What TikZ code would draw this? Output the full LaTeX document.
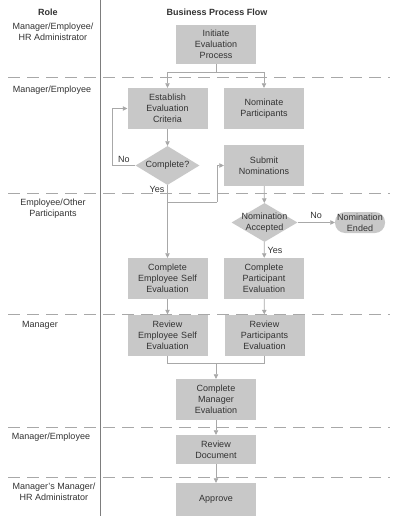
\documentclass[tikz,border=0pt]{standalone}
\usepackage{fontspec}
\setmainfont{Liberation Sans}
\usepackage{tikz}
\usetikzlibrary{shapes.geometric,arrows.meta,calc}

\definecolor{boxgray}{RGB}{200,200,200}
\definecolor{linegray}{RGB}{168,168,168}
\definecolor{txtgray}{RGB}{50,50,50}
\definecolor{divgray}{RGB}{125,125,125}

\begin{document}
\begin{tikzpicture}[x=1pt,y=-1pt,
	proc/.style={fill=boxgray,minimum width=80pt,minimum height=41pt,text width=78pt,
		align=center,inner sep=0pt,text=txtgray,font=\fontsize{9}{10.8}\selectfont},
	decide/.style={diamond,fill=boxgray,minimum width=64pt,minimum height=39pt,inner sep=0pt},
	dtext/.style={align=center,text=txtgray,font=\fontsize{9}{10.8}\selectfont},
	role/.style={align=center,text=txtgray,font=\fontsize{9}{10.8}\selectfont},
	head/.style={text=txtgray,font=\fontsize{9}{10.8}\selectfont\bfseries},
	tag/.style={text=txtgray,inner sep=1pt,font=\fontsize{9}{10.8}\selectfont},
	flow/.style={draw=linegray,line width=0.7pt,-{Triangle[length=4.5pt,width=4.5pt]}},
	link/.style={draw=linegray,line width=0.7pt},
	lane/.style={draw=linegray,line width=0.7pt,dash pattern=on 12pt off 7pt}]
\useasboundingbox (0,0) rectangle (401,532);

% lanes
\foreach \y in {77,193,314,427,477}
	\draw[lane] (8,\y) -- (390,\y);
\draw[divgray,line width=0.8pt] (100,0) -- (100,516);

% headings and roles
\node[head] (h-role) at (48,12) {Role};
\node[head] (h-flow) at (217,12) {Business Process Flow};
\node[role] (r-1) at (53,32) {Manager/Employee/\\HR Administrator};
\node[role] (r-2) at (52,90) {Manager/Employee};
\node[role] (r-3) at (53,209) {Employee/Other\\Participants};
\node[role] (r-4) at (40,325) {Manager};
\node[role] (r-5) at (51,437) {Manager/Employee};
\node[role] (r-6) at (54,492) {Manager's Manager/\\HR Administrator};

% steps
\node[proc,minimum height=39pt] (init) at (216,44.5) {Initiate\\Evaluation\\Process};
\node[proc] (est) at (167.5,108.5) {Establish\\Evaluation\\Criteria};
\node[proc] (nom) at (264,108.5) {Nominate\\Participants};
\node[decide,label={[dtext]center:Complete?}] (chk) at (167.5,165.5) {};
\node[proc] (sub) at (264,165.5) {Submit\\Nominations};
\node[decide,minimum width=66pt,label={[dtext]center:Nomination\\Accepted}] (acc) at (264.5,222.5) {};
\node[proc,rounded corners=10pt,minimum width=50pt,minimum height=21pt,text width=50pt] (ended) at (360,222.5) {Nomination\\Ended};
\node[proc] (c-emp) at (167.5,278.5) {Complete\\Employee Self\\Evaluation};
\node[proc] (c-part) at (264,278.5) {Complete\\Participant\\Evaluation};
\node[proc] (r-emp) at (167.5,335) {Review\\Employee Self\\Evaluation};
\node[proc] (r-part) at (264.5,335) {Review\\Participants\\Evaluation};
\node[proc] (c-man) at (216,399.5) {Complete\\Manager\\Evaluation};
\node[proc,minimum height=29pt] (r-doc) at (216,449.5) {Review\\Document};
\node[proc,minimum height=33pt] (appr) at (216,499.5) {Approve};

% junctions
\coordinate (j-init) at (216,72);
\coordinate (j-no) at (112,165.5);
\coordinate (j-yes) at (167.5,202);
\coordinate (j-sub) at (217,202);
\coordinate (j-rev) at (216,363);

% connectors
\draw[link] (init) -- (j-init);
\draw[flow] (j-init) -| (est);
\draw[flow] (j-init) -| (nom);
\draw[flow] (est) -- (chk);
\draw[link] (chk) -- (j-no);
\draw[flow] (j-no) |- (est);
\draw[flow] (chk) -- (c-emp);
\draw[link] (j-yes) -- (j-sub);
\draw[flow] (j-sub) |- (sub);
\draw[flow] (sub) -- (acc);
\draw[flow] (acc) -- (ended);
\draw[flow] (acc) -- (c-part);
\draw[flow] (c-emp) -- (r-emp);
\draw[flow] (c-part) -- (r-part);
\draw[link] (r-emp) |- (j-rev);
\draw[link] (r-part) |- (j-rev);
\draw[flow] (j-rev) -- (c-man);
\draw[flow] (c-man) -- (r-doc);
\draw[flow] (r-doc) -- (appr);

% branch labels
\node[tag] (t-no1) at (124,159) {No};
\node[tag] (t-yes1) at (157,189) {Yes};
\node[tag] (t-no2) at (316,215) {No};
\node[tag] (t-yes2) at (275,250) {Yes};
\end{tikzpicture}
\end{document}
